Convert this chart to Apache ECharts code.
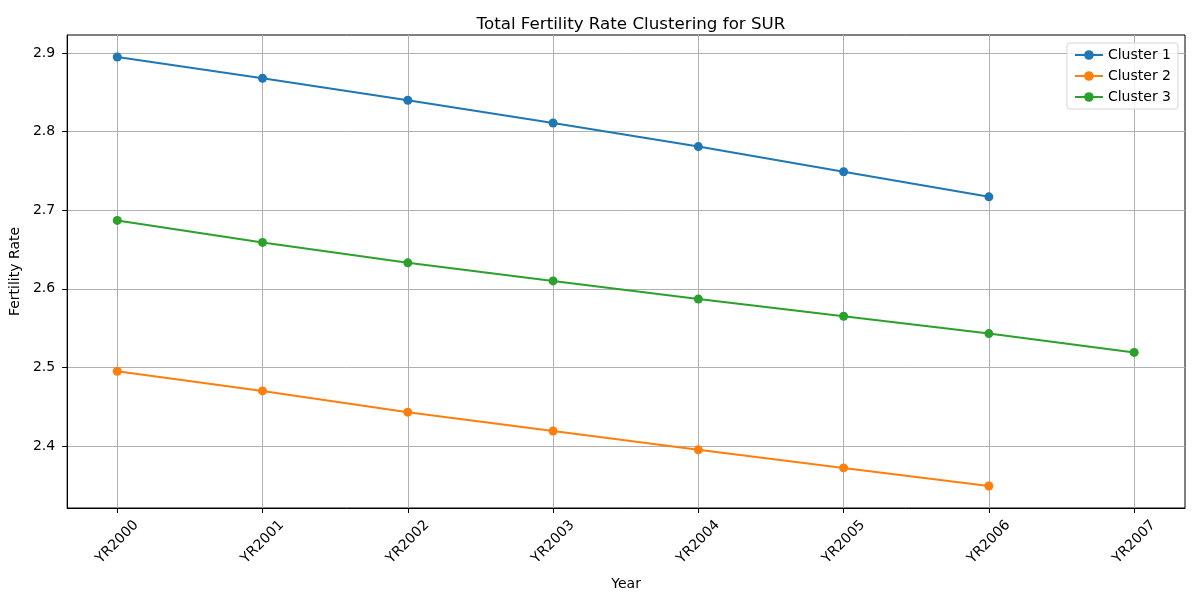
<!DOCTYPE html>
<html lang="en">
<head>
    <meta charset="UTF-8">
    <title>Total Fertility Rate Clustering for SUR</title>
    <script src="https://cdn.jsdelivr.net/npm/echarts@6/dist/echarts.min.js"></script>
    <style>
        * {padding: 0; margin: 0;}
        #main { width: 1200px; height: 600px; background: #fff; }
    </style>
</head>
<body>
    <div id="main"></div>

    <script>
        const years = ['YR2000', 'YR2001', 'YR2002', 'YR2003', 'YR2004', 'YR2005', 'YR2006', 'YR2007']
        const cluster1 = [2.895, 2.868, 2.840, 2.811, 2.781, 2.749, 2.717]
        const cluster2 = [2.495, 2.470, 2.443, 2.419, 2.395, 2.372, 2.349]
        const cluster3 = [2.687, 2.659, 2.633, 2.610, 2.587, 2.565, 2.543, 2.519]
        const yTicks = [2.4, 2.5, 2.6, 2.7, 2.8, 2.9]

        const font = 'DejaVu Sans'
        const chart = echarts.init(document.getElementById('main'))

        function points(values) {
            return values.map(function(v, i) { return [i, v] })
        }

        function line(name, values, color) {
            return {
                name: name,
                type: 'line',
                data: points(values),
                symbol: 'circle',
                symbolSize: 9,
                showSymbol: true,
                animation: false,
                lineStyle: { color: color, width: 2 },
                itemStyle: { color: color }
            }
        }

        const xIdx = years.map(function(y, i) { return i })

        chart.setOption({
            textStyle: { fontFamily: font },
            title: {
                text: 'Total Fertility Rate Clustering for SUR',
                left: 626,
                textAlign: 'center',
                top: 11,
                textStyle: { fontFamily: font, fontSize: 16.7, fontWeight: 'normal', color: '#000' }
            },
            legend: {
                orient: 'vertical',
                right: 22,
                top: 43,
                itemWidth: 28,
                itemHeight: 12,
                itemGap: 7,
                padding: [5, 7, 5, 7],
                borderColor: '#d5d5d5',
                borderWidth: 1,
                borderRadius: 3,
                backgroundColor: 'rgba(255,255,255,0.8)',
                textStyle: { fontFamily: font, fontSize: 14, color: '#000' },
                data: ['Cluster 1', 'Cluster 2', 'Cluster 3']
            },
            grid: {
                left: 67, right: 15, top: 35, bottom: 92,
                show: true, borderColor: '#000', borderWidth: 1
            },
            xAxis: {
                type: 'value',
                min: -0.345,
                max: years.length - 1 + 0.35,
                name: 'Year',
                nameLocation: 'middle',
                nameGap: 69,
                nameTextStyle: { fontFamily: font, fontSize: 14, color: '#000' },
                axisLine: { onZero: false, lineStyle: { color: '#000', width: 1 } },
                axisTick: { show: true, length: 5, customValues: xIdx, lineStyle: { color: '#000' } },
                axisLabel: {
                    customValues: xIdx,
                    rotate: 45,
                    align: 'center',
                    verticalAlign: 'middle',
                    margin: 34,
                    fontFamily: font,
                    fontSize: 14,
                    color: '#000',
                    formatter: function(v) { return years[Math.round(v)] }
                },
                splitLine: { show: true, lineStyle: { color: '#b0b0b0', width: 1 } }
            },
            yAxis: {
                type: 'value',
                min: 2.321,
                max: 2.923,
                name: 'Fertility Rate',
                nameLocation: 'middle',
                nameGap: 41,
                nameTextStyle: { fontFamily: font, fontSize: 14, color: '#000' },
                axisLine: { show: true, onZero: false, lineStyle: { color: '#000', width: 1 } },
                axisTick: { show: true, length: 5, customValues: yTicks, lineStyle: { color: '#000' } },
                axisLabel: {
                    customValues: yTicks,
                    margin: 12,
                    fontFamily: font,
                    fontSize: 14,
                    color: '#000',
                    formatter: function(v) { return v.toFixed(1) }
                },
                splitLine: { show: true, lineStyle: { color: '#b0b0b0', width: 1 } }
            },
            series: [
                line('Cluster 1', cluster1, '#1f77b4'),
                line('Cluster 2', cluster2, '#ff7f0e'),
                line('Cluster 3', cluster3, '#2ca02c')
            ]
        })
    </script>
</body>
</html>
